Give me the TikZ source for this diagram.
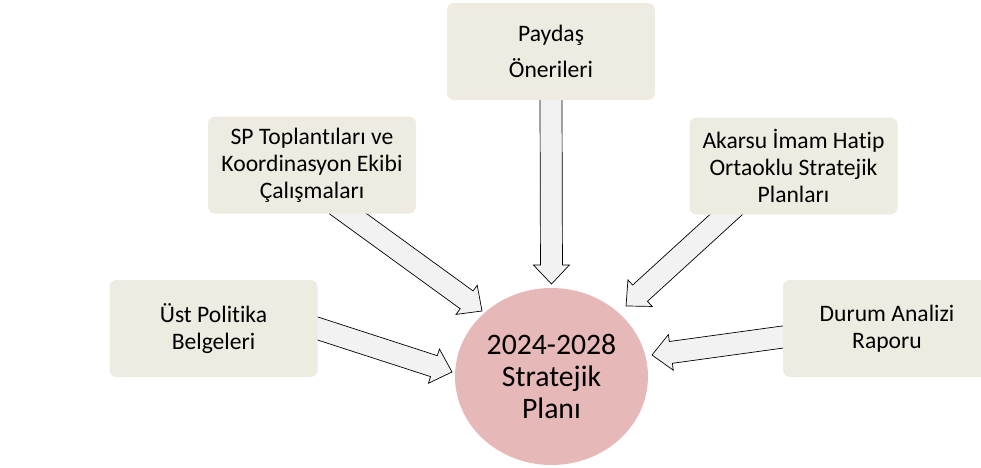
\documentclass[tikz,border=0pt]{standalone}
\usepackage{fontspec}
\setmainfont[Ligatures={NoCommon}]{Carlito}
\usetikzlibrary{calc,shapes.geometric,backgrounds}

\definecolor{boxtan}{HTML}{EEECE1}
\definecolor{planpink}{HTML}{E6B8B7}
\definecolor{arrowgray}{HTML}{F2F2F2}

\tikzset{
  srcbox/.style={rectangle,rounded corners=7pt,fill=boxtan,minimum width=208pt,minimum height=97pt,
                 inner sep=0pt,align=center,font=\fontsize{23.6}{27}\selectfont},
  planbox/.style={ellipse,fill=planpink,minimum width=193pt,minimum height=177pt,
                  inner sep=0pt,align=center,font=\fontsize{29.7}{32}\selectfont},
  arrowbody/.style={draw=black,line width=0.7pt,fill=arrowgray,line join=miter}
}

\newcommand{\blockarrow}[2]{%
  \draw[arrowbody] let \p1=(#1), \p2=(#2),
      \n1={atan2(\y2-\y1,\x2-\x1)}, \n2={veclen(\x2-\x1,\y2-\y1)} in
    [shift={(\p1)}, rotate=\n1]
    (-15,-11) -- (\n2-19,-11) -- (\n2-19,-18) -- (\n2,0)
    -- (\n2-19,18) -- (\n2-19,11) -- (-15,11) -- cycle;}

\begin{document}
\begin{tikzpicture}[x=1pt,y=1pt]
    \useasboundingbox (0,0) rectangle (981,467);

    % source boxes
    \node[srcbox] (payd)  at (551,415.5) {Paydaş\\[9pt]Önerileri};
    \node[srcbox] (sp)    at (312,302)   {SP Toplantıları ve\\Koordinasyon Ekibi\\Çalışmaları};
    \node[srcbox] (akar)  at (793.5,301) {Akarsu İmam Hatip\\Ortaoklu Stratejik\\Planları};
    \node[srcbox] (ust)   at (213.5,138.5) {Üst Politika\\Belgeleri};
    \node[srcbox] (durum) at (887,138.5) {Durum Analizi\\Raporu};

    % the plan
    \node[planbox] (plan) at (551.5,90.5) {2024-2028\\Stratejik\\Planı};

    % arrow ends
    \coordinate (t-sp)    at ($(sp.south)+(36,0)$);
    \coordinate (t-akar)  at ($(akar.south)+(-67.5,0)$);
    \coordinate (t-durum) at ($(durum.west)+(0,-8.5)$);
    \coordinate (tip-payd)  at ($(plan.center)+(0,92.5)$);
    \coordinate (tip-sp)    at ($(plan.center)+(-69.5,65.5)$);
    \coordinate (tip-ust)   at ($(plan.center)+(-99.5,4.5)$);
    \coordinate (tip-akar)  at ($(plan.center)+(74.5,70.5)$);
    \coordinate (tip-durum) at ($(plan.center)+(100.5,21.5)$);

    \begin{scope}[on background layer]
        \foreach \from/\to in {payd.south/tip-payd, t-sp/tip-sp, ust.east/tip-ust, t-akar/tip-akar, t-durum/tip-durum}
            {\blockarrow{\from}{\to}}
    \end{scope}
\end{tikzpicture}
\end{document}
